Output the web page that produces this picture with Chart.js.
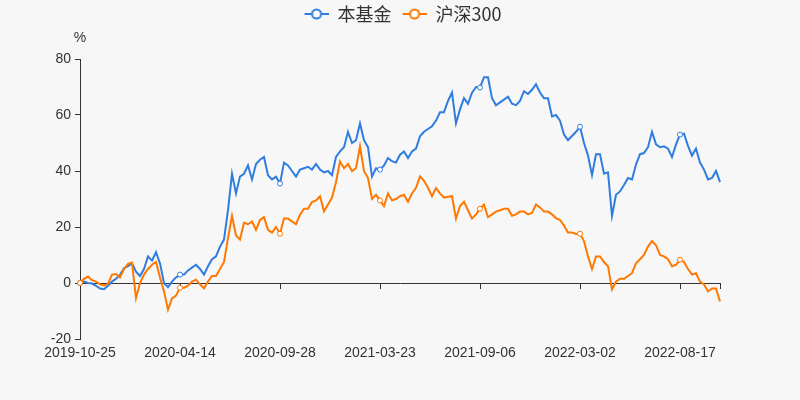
<!DOCTYPE html>
<html>
<head>
<meta charset="utf-8">
<script src="https://cdn.jsdelivr.net/npm/chart.js@4.4.1/dist/chart.umd.min.js"></script>
<style>
  html, body { margin: 0; padding: 0; background: #f7f7f7; }
  #wrap { width: 800px; height: 400px; position: relative; }
</style>
</head>
<body>
<div id="wrap"><canvas id="chart"></canvas></div>
<script>
// dates (one point every ~week of trading)
const dateLabels = [
  '2019-10-25','2019-11-01','2019-11-08','2019-11-15','2019-11-22','2019-11-29','2019-12-06','2019-12-13','2019-12-20','2019-12-27',
  '2020-01-03','2020-01-10','2020-01-17','2020-01-23','2020-02-03','2020-02-07','2020-02-14','2020-02-21','2020-02-28','2020-03-06',
  '2020-03-13','2020-03-20','2020-03-27','2020-04-03','2020-04-10','2020-04-14','2020-04-21','2020-04-28','2020-05-06','2020-05-12',
  '2020-05-19','2020-05-26','2020-06-02','2020-06-09','2020-06-16','2020-06-23','2020-06-30','2020-07-07','2020-07-14','2020-07-21',
  '2020-07-28','2020-08-04','2020-08-11','2020-08-18','2020-08-25','2020-09-01','2020-09-08','2020-09-15','2020-09-18','2020-09-23',
  '2020-09-28','2020-10-09','2020-10-16','2020-10-23','2020-10-30','2020-11-06','2020-11-13','2020-11-20','2020-11-27','2020-12-04',
  '2020-12-11','2020-12-18','2020-12-25','2020-12-31','2021-01-08','2021-01-15','2021-01-22','2021-01-29','2021-02-05','2021-02-10',
  '2021-02-19','2021-02-26','2021-03-05','2021-03-12','2021-03-18','2021-03-23','2021-03-30','2021-04-06','2021-04-13','2021-04-20',
  '2021-04-27','2021-05-06','2021-05-11','2021-05-18','2021-05-25','2021-06-01','2021-06-08','2021-06-16','2021-06-22','2021-06-29',
  '2021-07-06','2021-07-13','2021-07-20','2021-07-27','2021-08-03','2021-08-10','2021-08-17','2021-08-24','2021-08-31','2021-09-02',
  '2021-09-06','2021-09-13','2021-09-22','2021-09-27','2021-10-08','2021-10-15','2021-10-22','2021-10-29','2021-11-05','2021-11-12',
  '2021-11-19','2021-11-26','2021-12-03','2021-12-10','2021-12-17','2021-12-24','2021-12-31','2022-01-07','2022-01-14','2022-01-21',
  '2022-01-28','2022-02-07','2022-02-14','2022-02-18','2022-02-24','2022-03-02','2022-03-09','2022-03-16','2022-03-23','2022-03-30',
  '2022-04-06','2022-04-13','2022-04-20','2022-04-27','2022-05-05','2022-05-11','2022-05-18','2022-05-25','2022-06-01','2022-06-08',
  '2022-06-15','2022-06-22','2022-06-27','2022-07-01','2022-07-06','2022-07-13','2022-07-20','2022-07-27','2022-08-03','2022-08-10',
  '2022-08-17','2022-08-24','2022-08-31','2022-09-07','2022-09-14','2022-09-21','2022-09-28','2022-10-12','2022-10-19','2022-10-24',
  '2022-10-28'
];

// 本基金 累计收益率 (%)
const fundValues = [
  0, 0.5, 0, -0.2, -1, -2, -2.2, -1, 0.5, 1.5,
  2.9, 5.3, 6, 7, 4, 2.5, 5, 9.5, 8, 11,
  7, 0, -1.5, 0.5, 2, 3, 3, 4.5, 5.5, 6.5,
  5, 3, 6, 8.5, 9.5, 13, 15.5, 26, 39, 32,
  38, 39, 42, 37, 42.5, 44, 45, 38.5, 37, 38,
  35.5, 43, 42, 40, 38, 40.5, 41, 41.5, 40.5, 42.5,
  40.5, 39.5, 40, 38.5, 45, 47, 48.5, 54, 50, 51,
  57, 51, 48.5, 38, 41, 40.5, 42, 44.6, 43.5, 43,
  45.8, 47, 44.6, 47, 48, 52.4, 54, 55, 56, 58,
  61, 61, 65, 68, 57, 62, 66, 64, 68, 70,
  69.8, 73.5, 73.5, 66, 63.5, 64.5, 65.5, 66.5, 64, 63.5,
  65, 68.5, 67.5, 69, 71, 68, 66, 66, 59.5, 60,
  58, 53, 51, 52.5, 54, 55.8, 50, 45.5, 38.5, 46,
  46, 39, 39.5, 24, 31.5, 32.7, 35, 37.5, 37, 42.3,
  46, 46.4, 48.5, 54, 49.5, 48.5, 48.8, 48, 45, 49.5,
  53, 53.3, 49, 45.5, 48, 43, 40.5, 37, 37.5, 40,
  36
];

// 沪深300 累计收益率 (%)
const indexValues = [
  0, 1.5, 2.3, 1, 0.5, -0.5, -0.9, -0.3, 3, 3.2,
  2, 5, 6.8, 7.3, -5.4, 0, 3, 5, 6.5, 7.5,
  2, -3, -9.5, -5.5, -4.5, -1.7, -1.7, -1, 0.5, 1.2,
  -0.5, -1.9, 0.5, 2.5, 2.5, 5, 7.5, 16, 24, 17,
  15.5, 21.5, 21, 22, 19, 22.5, 23.5, 19, 18, 20,
  17.6, 23, 23, 22, 21, 24.4, 26.5, 26.5, 28.9, 29.5,
  31, 25.6, 28, 30.5, 36, 43.4, 41, 42.5, 40, 41,
  48.8, 40, 37.5, 30, 31.5, 29.5, 27.5, 32, 29.5, 30,
  31, 31.5, 29, 32, 34, 38.1, 36.5, 34, 31, 33.9,
  32, 30.5, 30.8, 31, 23, 27.5, 29, 26, 23, 24.5,
  26.5, 28, 23.5, 24.5, 25.5, 26, 26.5, 26.5, 24, 24.5,
  25.5, 25.5, 24.5, 25, 28, 27, 25.5, 25.5, 24.5, 23.2,
  22.5, 20.5, 18, 18, 17.5, 17.6, 15, 9.5, 5, 9.5,
  9.5, 7.5, 6, -2.3, 0.5, 1.5, 1.5, 2.5, 3.5, 7,
  8.5, 10, 13, 15, 13.5, 10, 9.5, 8.5, 6, 6.5,
  8.3, 7.5, 5, 3, 3.5, 0.5, -0.5, -3, -2, -2,
  -6.6
];

const yTicks = [-20, 0, 20, 40, 60, 80];

const blue = '#2f7de0';
const orange = '#ff7800';
const tickEvery = 25;

// legend icon: short line with a hollow circle
function legendIcon(color) {
  const c = document.createElement('canvas');
  c.width = 30; c.height = 14;
  const g = c.getContext('2d');
  g.strokeStyle = color;
  g.lineWidth = 2;
  g.beginPath(); g.moveTo(6, 7); g.lineTo(30, 7); g.stroke();
  g.beginPath(); g.arc(18, 7, 4.5, 0, Math.PI * 2);
  g.fillStyle = '#fff'; g.fill(); g.stroke();
  return c;
}
const icons = [legendIcon(blue), legendIcon(orange)];

const bgPlugin = {
  id: 'bg',
  beforeDraw(chart) {
    const ctx = chart.ctx;
    ctx.save();
    ctx.fillStyle = '#f7f7f7';
    ctx.fillRect(0, 0, chart.width, chart.height);
    ctx.restore();
  }
};

const unitPlugin = {
  id: 'unit',
  afterDraw(chart) {
    const { ctx, chartArea } = chart;
    ctx.save();
    ctx.font = '14px "Liberation Sans", Arial, sans-serif';
    ctx.fillStyle = '#333';
    ctx.textAlign = 'center';
    ctx.textBaseline = 'middle';
    ctx.fillText('%', chartArea.left, chartArea.top - 21);
    ctx.restore();
  }
};

Chart.defaults.font.family = '"Liberation Sans", Arial, sans-serif';
Chart.defaults.color = '#333';

const markRadius = ctx => (ctx.index % tickEvery === 0 ? 2.5 : 0);

new Chart(document.getElementById('chart'), {
  type: 'line',
  data: {
    labels: dateLabels,
    datasets: [
      {
        label: '本基金',
        data: fundValues,
        borderColor: blue,
        borderWidth: 2,
        pointRadius: markRadius,
        pointBackgroundColor: '#fff',
        pointBorderColor: blue,
        pointBorderWidth: 1,
        tension: 0,
        order: 1
      },
      {
        label: '沪深300',
        data: indexValues,
        borderColor: orange,
        borderWidth: 2,
        pointRadius: markRadius,
        pointBackgroundColor: '#fff',
        pointBorderColor: orange,
        pointBorderWidth: 1,
        tension: 0,
        order: 0
      }
    ]
  },
  options: {
    responsive: true,
    maintainAspectRatio: false,
    animation: false,
    layout: { padding: 0 },
    plugins: {
      tooltip: { enabled: false },
      legend: {
        position: 'top',
        labels: {
          usePointStyle: true,
          pointStyleWidth: 30,
          padding: 5,
          color: '#333',
          font: { size: 18, family: '"Noto Sans CJK SC", sans-serif' },
          generateLabels: chart => chart.data.datasets.map((ds, i) => ({
            text: ds.label,
            pointStyle: icons[i],
            fontColor: '#333',
            fillStyle: 'transparent',
            strokeStyle: 'transparent',
            lineWidth: 0,
            hidden: false,
            datasetIndex: i
          }))
        }
      }
    },
    scales: {
      x: {
        position: 'bottom',
        grid: { display: false, drawTicks: false },
        border: { display: false },
        ticks: {
          autoSkip: false,
          maxRotation: 0,
          padding: 6,
          font: { size: 14 },
          color: '#333',
          callback: function (v, i) {
            return (i % tickEvery === 0 && i < dateLabels.length - 1) ? this.getLabelForValue(v) : '';
          }
        },
        afterFit: s => { s.height = 61; }
      },
      xz: {
        position: { y: 0 },
        grid: {
          drawOnChartArea: false,
          drawTicks: true,
          tickLength: 5,
          color: c => (c.index % tickEvery === 0 || c.index === dateLabels.length - 1) ? '#333' : 'rgba(0,0,0,0)'
        },
        border: { display: true, color: '#333', width: 1 },
        ticks: { display: false, autoSkip: false }
      },
      xt: {
        position: 'top',
        grid: { display: false, drawTicks: false },
        border: { display: false },
        ticks: { display: false },
        afterFit: s => { s.height = 26; }
      },
      y: {
        min: yTicks[0],
        max: yTicks[yTicks.length - 1],
        afterBuildTicks: s => { s.ticks = yTicks.map(v => ({ value: v })); },
        grid: { drawOnChartArea: false, drawTicks: true, tickLength: 5, color: '#333' },
        border: { display: true, color: '#333', width: 1 },
        ticks: { padding: 4, font: { size: 14 }, color: '#333' },
        afterFit: s => { s.width = 80; }
      },
      yr: {
        position: 'right',
        grid: { display: false, drawTicks: false },
        border: { display: false },
        ticks: { display: false },
        afterFit: s => { s.width = 80; }
      }
    }
  },
  plugins: [bgPlugin, unitPlugin]
});
</script>
</body>
</html>
